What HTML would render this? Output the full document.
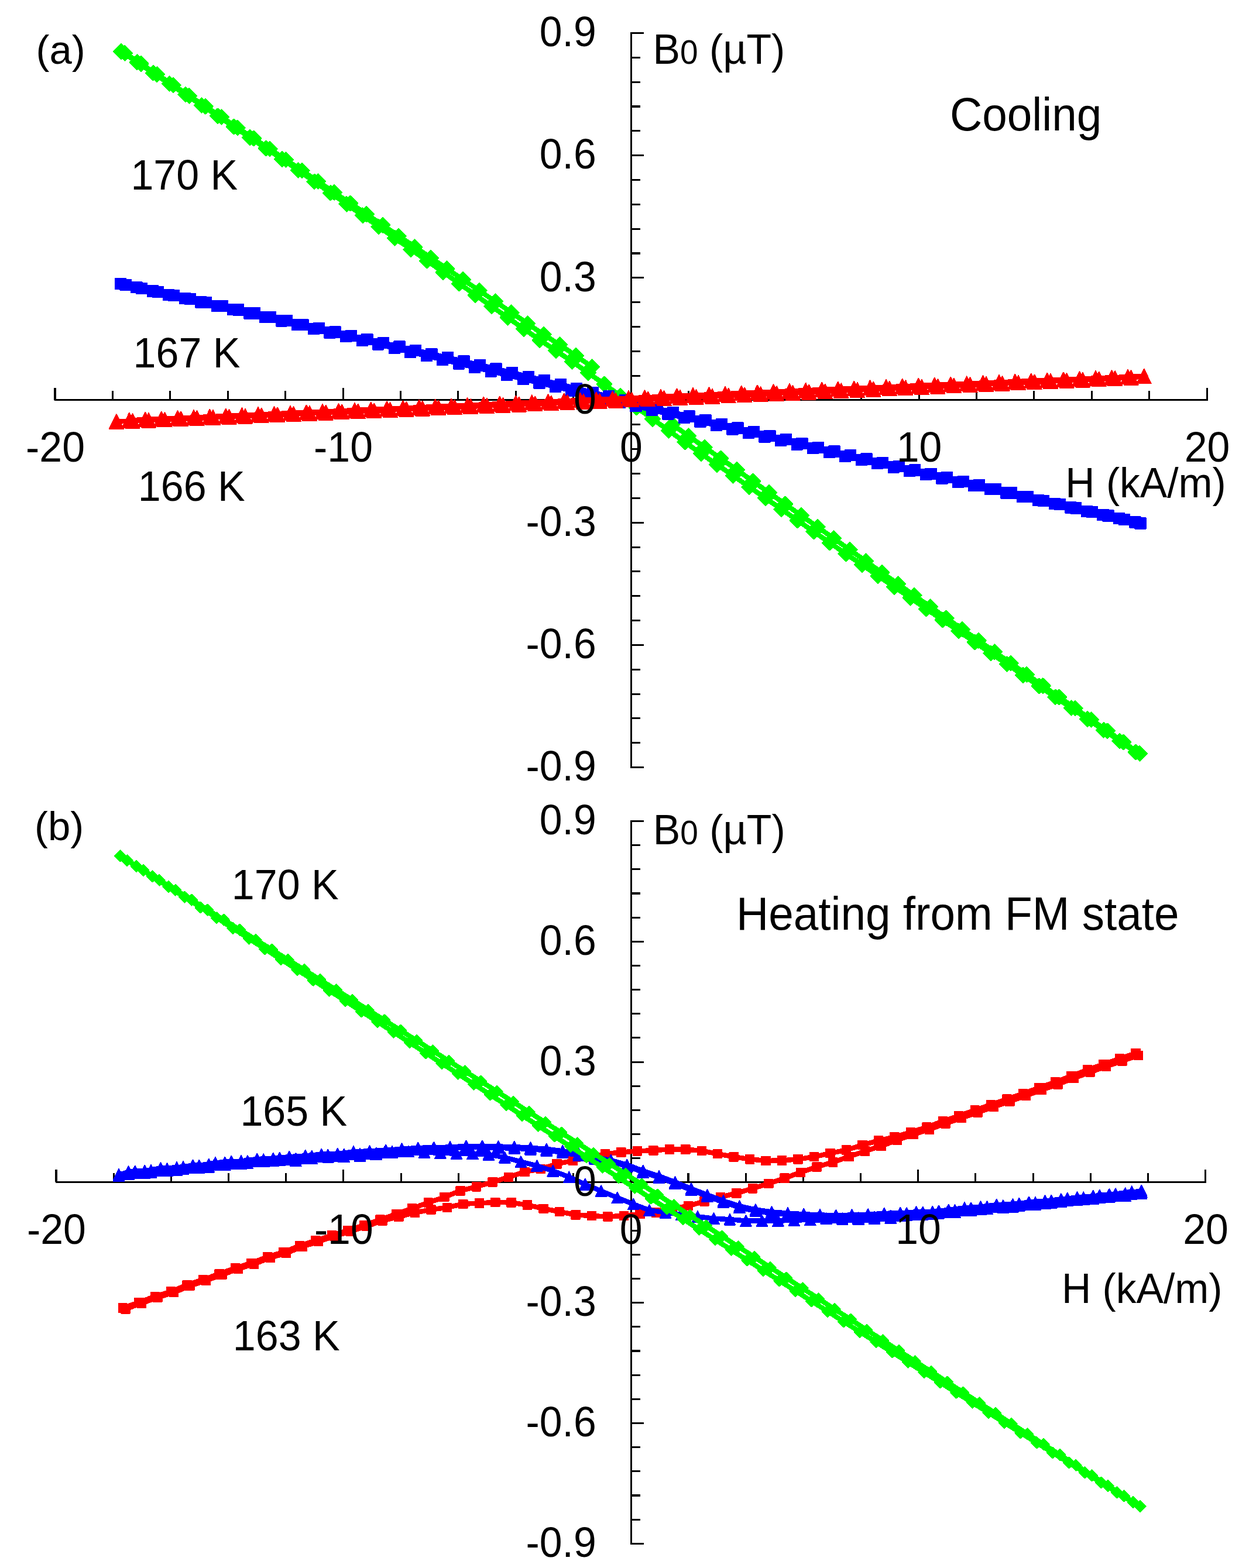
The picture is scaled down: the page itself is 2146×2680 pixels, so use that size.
<!DOCTYPE html>
<html lang="en">
<head>
<meta charset="utf-8">
<title>B0 versus H: cooling and heating from FM state</title>
<style>
html,body{margin:0;padding:0;background:#fff}
body{width:2146px;height:2680px;overflow:hidden}
svg{display:block}
text{font-family:'Liberation Sans', Arial, Helvetica, sans-serif;fill:#000}
</style>
</head>
<body>
<svg width="2146" height="2680" viewBox="0 0 2146 2680">
<rect width="2146" height="2680" fill="#fff"/>
<g id="panel-a" shape-rendering="crispEdges">
<path d="M92.5 683.5H2063.6M94 683.5V663.1M192.4 683.5V668.3M290.9 683.5V668.3M389.3 683.5V668.3M487.7 683.5V668.3M586.1 683.5V663.1M684.5 683.5V668.3M782.9 683.5V668.3M881.2 683.5V668.3M979.7 683.5V668.3M1078.1 683.5V663.1M1176.5 683.5V668.3M1274.9 683.5V668.3M1373.3 683.5V668.3M1471.7 683.5V668.3M1570.1 683.5V663.1M1668.5 683.5V668.3M1766.9 683.5V668.3M1865.3 683.5V668.3M1963.7 683.5V668.3M2062.1 683.5V663.1M1078.5 55V1313.1M1078.5 56.5H1100M1078.5 98.3H1094M1078.5 140.2H1094M1078.5 182H1094M1078.5 223.8H1094M1078.5 265.7H1100M1078.5 307.5H1094M1078.5 349.4H1094M1078.5 391.2H1094M1078.5 433H1094M1078.5 474.9H1100M1078.5 516.7H1094M1078.5 558.5H1094M1078.5 600.4H1094M1078.5 642.2H1094M1078.5 684H1100M1078.5 725.9H1094M1078.5 767.7H1094M1078.5 809.6H1094M1078.5 851.4H1094M1078.5 893.2H1100M1078.5 935.1H1094M1078.5 976.9H1094M1078.5 1018.7H1094M1078.5 1060.6H1094M1078.5 1102.4H1100M1078.5 1144.3H1094M1078.5 1186.1H1094M1078.5 1227.9H1094M1078.5 1269.8H1094M1078.5 1311.6H1100" fill="none" stroke="#000" stroke-width="3.1"/>
<path d="M1149 725.5L1176.5 745.2L1204 764.5L1231.5 783.7L1259.1 803.1L1286.6 822.6L1314.1 842.1L1341.6 861.6L1369.1 881.1L1396.7 900.6L1424.2 920.1L1451.7 939.6L1479.2 959.1L1506.7 978.7L1534.3 998.2L1561.8 1017.7L1589.3 1037L1616.8 1056.3L1644.3 1075.6L1671.9 1094.9L1699.4 1114.2L1726.9 1133.5L1754.4 1152.8L1781.9 1172.1L1809.5 1191.4L1837 1210.6L1864.5 1229.9L1892 1249.2L1919.5 1268.5L1947.1 1287.8L1940.7 1285.5L1913.1 1266.6L1885.6 1247.8L1858.1 1229L1830.6 1210.1L1803.1 1191.3L1775.5 1172.6L1748 1153.9L1720.5 1135.1L1693 1116.4L1665.5 1097.5L1637.9 1078.5L1610.4 1059.6L1582.9 1040.7L1555.4 1021.8L1527.9 1003L1500.3 984.2L1472.8 965.3L1445.3 946.5L1417.8 927.7L1390.3 908.6L1362.7 889.5L1335.2 870.4L1307.7 851.3L1280.2 832.2L1252.7 813L1225.1 794.1L1197.6 775.2L1170.1 755.7L1142.6 735.9L1115.1 716.1L1087.5 696.3L1060 676.5L1032.5 656.7L1005 637.1L977.5 618.1L949.9 599.3L922.4 581.2L894.9 562L867.4 542.8L839.9 523.6L812.3 504.1L784.8 484.6L757.3 465.2L729.8 445.7L702.3 426.3L674.7 406.8L647.2 387.5L619.7 368.2L592.2 348.9L564.7 329.6L537.1 310.3L509.6 291L482.1 272.1L454.6 253.6L427.1 235.1L399.5 216.6L372 198.2L344.5 179.8L317 161.4L289.5 143.1L261.9 124.7L234.4 106.3L206.9 88L213.3 90.8L240.8 109L268.3 127.2L295.9 145.4L323.4 163.7L350.9 181.9L378.4 200.1L405.9 218.3L433.5 236.5L461 254.7L488.5 272.9L516 291.6L543.5 310.2L571.1 328.9L598.6 347.5L626.1 366.1L653.6 384.8L681.1 403.4L708.7 422.1L736.2 440.7L763.7 459.3L791.2 478L818.7 496.6L846.3 515.3L873.8 534.1L901.3 553L928.8 571.9L956.3 589.2L983.9 608L1011.4 626.9" fill="none" stroke="#00ff00" stroke-width="8.5" stroke-linejoin="round" stroke-linecap="round"/>
<path d="M1136.2 725.5l12.8 -12.8l12.8 12.8l-12.8 12.8zM1163.7 745.2l12.8 -12.8l12.8 12.8l-12.8 12.8zM1191.2 764.5l12.8 -12.8l12.8 12.8l-12.8 12.8zM1218.7 783.7l12.8 -12.8l12.8 12.8l-12.8 12.8zM1246.3 803.1l12.8 -12.8l12.8 12.8l-12.8 12.8zM1273.8 822.6l12.8 -12.8l12.8 12.8l-12.8 12.8zM1301.3 842.1l12.8 -12.8l12.8 12.8l-12.8 12.8zM1328.8 861.6l12.8 -12.8l12.8 12.8l-12.8 12.8zM1356.3 881.1l12.8 -12.8l12.8 12.8l-12.8 12.8zM1383.9 900.6l12.8 -12.8l12.8 12.8l-12.8 12.8zM1411.4 920.1l12.8 -12.8l12.8 12.8l-12.8 12.8zM1438.9 939.6l12.8 -12.8l12.8 12.8l-12.8 12.8zM1466.4 959.1l12.8 -12.8l12.8 12.8l-12.8 12.8zM1493.9 978.7l12.8 -12.8l12.8 12.8l-12.8 12.8zM1521.5 998.2l12.8 -12.8l12.8 12.8l-12.8 12.8zM1549 1017.7l12.8 -12.8l12.8 12.8l-12.8 12.8zM1576.5 1037l12.8 -12.8l12.8 12.8l-12.8 12.8zM1604 1056.3l12.8 -12.8l12.8 12.8l-12.8 12.8zM1631.5 1075.6l12.8 -12.8l12.8 12.8l-12.8 12.8zM1659.1 1094.9l12.8 -12.8l12.8 12.8l-12.8 12.8zM1686.6 1114.2l12.8 -12.8l12.8 12.8l-12.8 12.8zM1714.1 1133.5l12.8 -12.8l12.8 12.8l-12.8 12.8zM1741.6 1152.8l12.8 -12.8l12.8 12.8l-12.8 12.8zM1769.1 1172.1l12.8 -12.8l12.8 12.8l-12.8 12.8zM1796.7 1191.4l12.8 -12.8l12.8 12.8l-12.8 12.8zM1824.2 1210.6l12.8 -12.8l12.8 12.8l-12.8 12.8zM1851.7 1229.9l12.8 -12.8l12.8 12.8l-12.8 12.8zM1879.2 1249.2l12.8 -12.8l12.8 12.8l-12.8 12.8zM1906.7 1268.5l12.8 -12.8l12.8 12.8l-12.8 12.8zM1934.3 1287.8l12.8 -12.8l12.8 12.8l-12.8 12.8zM1927.9 1285.5l12.8 -12.8l12.8 12.8l-12.8 12.8zM1900.3 1266.6l12.8 -12.8l12.8 12.8l-12.8 12.8zM1872.8 1247.8l12.8 -12.8l12.8 12.8l-12.8 12.8zM1845.3 1229l12.8 -12.8l12.8 12.8l-12.8 12.8zM1817.8 1210.1l12.8 -12.8l12.8 12.8l-12.8 12.8zM1790.3 1191.3l12.8 -12.8l12.8 12.8l-12.8 12.8zM1762.7 1172.6l12.8 -12.8l12.8 12.8l-12.8 12.8zM1735.2 1153.9l12.8 -12.8l12.8 12.8l-12.8 12.8zM1707.7 1135.1l12.8 -12.8l12.8 12.8l-12.8 12.8zM1680.2 1116.4l12.8 -12.8l12.8 12.8l-12.8 12.8zM1652.7 1097.5l12.8 -12.8l12.8 12.8l-12.8 12.8zM1625.1 1078.5l12.8 -12.8l12.8 12.8l-12.8 12.8zM1597.6 1059.6l12.8 -12.8l12.8 12.8l-12.8 12.8zM1570.1 1040.7l12.8 -12.8l12.8 12.8l-12.8 12.8zM1542.6 1021.8l12.8 -12.8l12.8 12.8l-12.8 12.8zM1515.1 1003l12.8 -12.8l12.8 12.8l-12.8 12.8zM1487.5 984.2l12.8 -12.8l12.8 12.8l-12.8 12.8zM1460 965.3l12.8 -12.8l12.8 12.8l-12.8 12.8zM1432.5 946.5l12.8 -12.8l12.8 12.8l-12.8 12.8zM1405 927.7l12.8 -12.8l12.8 12.8l-12.8 12.8zM1377.5 908.6l12.8 -12.8l12.8 12.8l-12.8 12.8zM1349.9 889.5l12.8 -12.8l12.8 12.8l-12.8 12.8zM1322.4 870.4l12.8 -12.8l12.8 12.8l-12.8 12.8zM1294.9 851.3l12.8 -12.8l12.8 12.8l-12.8 12.8zM1267.4 832.2l12.8 -12.8l12.8 12.8l-12.8 12.8zM1239.9 813l12.8 -12.8l12.8 12.8l-12.8 12.8zM1212.3 794.1l12.8 -12.8l12.8 12.8l-12.8 12.8zM1184.8 775.2l12.8 -12.8l12.8 12.8l-12.8 12.8zM1157.3 755.7l12.8 -12.8l12.8 12.8l-12.8 12.8zM1129.8 735.9l12.8 -12.8l12.8 12.8l-12.8 12.8zM1102.3 716.1l12.8 -12.8l12.8 12.8l-12.8 12.8zM1074.7 696.3l12.8 -12.8l12.8 12.8l-12.8 12.8zM1047.2 676.5l12.8 -12.8l12.8 12.8l-12.8 12.8zM1019.7 656.7l12.8 -12.8l12.8 12.8l-12.8 12.8zM992.2 637.1l12.8 -12.8l12.8 12.8l-12.8 12.8zM964.7 618.1l12.8 -12.8l12.8 12.8l-12.8 12.8zM937.1 599.3l12.8 -12.8l12.8 12.8l-12.8 12.8zM909.6 581.2l12.8 -12.8l12.8 12.8l-12.8 12.8zM882.1 562l12.8 -12.8l12.8 12.8l-12.8 12.8zM854.6 542.8l12.8 -12.8l12.8 12.8l-12.8 12.8zM827.1 523.6l12.8 -12.8l12.8 12.8l-12.8 12.8zM799.5 504.1l12.8 -12.8l12.8 12.8l-12.8 12.8zM772 484.6l12.8 -12.8l12.8 12.8l-12.8 12.8zM744.5 465.2l12.8 -12.8l12.8 12.8l-12.8 12.8zM717 445.7l12.8 -12.8l12.8 12.8l-12.8 12.8zM689.5 426.3l12.8 -12.8l12.8 12.8l-12.8 12.8zM661.9 406.8l12.8 -12.8l12.8 12.8l-12.8 12.8zM634.4 387.5l12.8 -12.8l12.8 12.8l-12.8 12.8zM606.9 368.2l12.8 -12.8l12.8 12.8l-12.8 12.8zM579.4 348.9l12.8 -12.8l12.8 12.8l-12.8 12.8zM551.9 329.6l12.8 -12.8l12.8 12.8l-12.8 12.8zM524.3 310.3l12.8 -12.8l12.8 12.8l-12.8 12.8zM496.8 291l12.8 -12.8l12.8 12.8l-12.8 12.8zM469.3 272.1l12.8 -12.8l12.8 12.8l-12.8 12.8zM441.8 253.6l12.8 -12.8l12.8 12.8l-12.8 12.8zM414.3 235.1l12.8 -12.8l12.8 12.8l-12.8 12.8zM386.7 216.6l12.8 -12.8l12.8 12.8l-12.8 12.8zM359.2 198.2l12.8 -12.8l12.8 12.8l-12.8 12.8zM331.7 179.8l12.8 -12.8l12.8 12.8l-12.8 12.8zM304.2 161.4l12.8 -12.8l12.8 12.8l-12.8 12.8zM276.7 143.1l12.8 -12.8l12.8 12.8l-12.8 12.8zM249.1 124.7l12.8 -12.8l12.8 12.8l-12.8 12.8zM221.6 106.3l12.8 -12.8l12.8 12.8l-12.8 12.8zM194.1 88l12.8 -12.8l12.8 12.8l-12.8 12.8zM200.5 90.8l12.8 -12.8l12.8 12.8l-12.8 12.8zM228 109l12.8 -12.8l12.8 12.8l-12.8 12.8zM255.5 127.2l12.8 -12.8l12.8 12.8l-12.8 12.8zM283.1 145.4l12.8 -12.8l12.8 12.8l-12.8 12.8zM310.6 163.7l12.8 -12.8l12.8 12.8l-12.8 12.8zM338.1 181.9l12.8 -12.8l12.8 12.8l-12.8 12.8zM365.6 200.1l12.8 -12.8l12.8 12.8l-12.8 12.8zM393.1 218.3l12.8 -12.8l12.8 12.8l-12.8 12.8zM420.7 236.5l12.8 -12.8l12.8 12.8l-12.8 12.8zM448.2 254.7l12.8 -12.8l12.8 12.8l-12.8 12.8zM475.7 272.9l12.8 -12.8l12.8 12.8l-12.8 12.8zM503.2 291.6l12.8 -12.8l12.8 12.8l-12.8 12.8zM530.7 310.2l12.8 -12.8l12.8 12.8l-12.8 12.8zM558.3 328.9l12.8 -12.8l12.8 12.8l-12.8 12.8zM585.8 347.5l12.8 -12.8l12.8 12.8l-12.8 12.8zM613.3 366.1l12.8 -12.8l12.8 12.8l-12.8 12.8zM640.8 384.8l12.8 -12.8l12.8 12.8l-12.8 12.8zM668.3 403.4l12.8 -12.8l12.8 12.8l-12.8 12.8zM695.9 422.1l12.8 -12.8l12.8 12.8l-12.8 12.8zM723.4 440.7l12.8 -12.8l12.8 12.8l-12.8 12.8zM750.9 459.3l12.8 -12.8l12.8 12.8l-12.8 12.8zM778.4 478l12.8 -12.8l12.8 12.8l-12.8 12.8zM805.9 496.6l12.8 -12.8l12.8 12.8l-12.8 12.8zM833.5 515.3l12.8 -12.8l12.8 12.8l-12.8 12.8zM861 534.1l12.8 -12.8l12.8 12.8l-12.8 12.8zM888.5 553l12.8 -12.8l12.8 12.8l-12.8 12.8zM916 571.9l12.8 -12.8l12.8 12.8l-12.8 12.8zM943.5 589.2l12.8 -12.8l12.8 12.8l-12.8 12.8zM971.1 608l12.8 -12.8l12.8 12.8l-12.8 12.8zM998.6 626.9l12.8 -12.8l12.8 12.8l-12.8 12.8z" fill="#00ff00" stroke="#00ff00" stroke-width="2" stroke-linejoin="round"/>
<path d="M205.8 484.8L233.3 491.1L260.8 497.5L288.4 503.8L315.9 510.1L343.4 516.4L370.9 522.8L398.4 529.1L426 535.4L453.5 541.8L481 548.4L508.5 555.1L536 561.8L563.6 568.5L591.1 575.1L618.6 581.7L646.1 588.3L673.6 594.9L701.2 601.5L728.7 608.1L756.2 614.7L783.7 621.3L811.2 627.9L838.8 634.5L866.3 641.2L893.8 647.8L921.3 654.4L948.8 661L976.4 667.6L1003.9 674.3L1031.4 680.9L1058.9 687.5L1086.4 694.1L1114 700.8L1141.5 707.4L1169 713.9L1196.5 720.4L1224 726.9L1251.6 733.4L1279.1 740L1306.6 746.5L1334.1 753L1361.6 759.5L1389.2 766.2L1416.7 773L1444.2 779.7L1471.7 786L1499.2 792.3L1526.8 798.6L1554.3 804.8L1581.8 811.1L1609.3 817.4L1636.8 823.7L1664.4 830L1691.9 836.2L1719.4 842.5L1746.9 848.7L1774.4 855L1802 861.2L1829.5 867.5L1857 873.8L1884.5 880L1912 886.3L1939.6 892.5L1948.4 894.5L1920.8 888L1893.3 881.5L1865.8 875.1L1838.3 868.6L1810.8 862.1L1783.2 855.6L1755.7 849.1L1728.2 842.5L1700.7 836L1673.2 829.4L1645.6 822.8L1618.1 816.2L1590.6 809.9L1563.1 803.5L1535.6 797.2L1508 790.9L1480.5 784.5L1453 778.2L1425.5 771.5L1398 764.7L1370.4 758L1342.9 751.3L1315.4 744.7L1287.9 738L1260.4 731.4L1232.8 724.8L1205.3 718.2L1177.8 711.6L1150.3 705L1122.8 698.2L1095.2 691.3L1067.7 684.4L1040.2 677.6L1012.7 670.7L985.2 663.8L957.6 657.1L930.1 650.4L902.6 643.7L875.1 637L847.6 630.3L820 623.8L792.5 617.5L765 611.3L737.5 605L710 598.8L682.4 592.5L654.9 586.3L627.4 580L599.9 573.7L572.4 567.5L544.8 561.1L517.3 554.6L489.8 548.1L462.3 541.7L434.8 535.5L407.2 529.4L379.7 523.3L352.2 517.2L324.7 511.1L297.2 505L269.6 498.9L242.1 492.8L214.6 486.8" fill="none" stroke="#0000ff" stroke-width="8.5" stroke-linejoin="round" stroke-linecap="round"/>
<path d="M196.7 475.7h18.3v18.3h-18.3zM224.2 482h18.3v18.3h-18.3zM251.7 488.3h18.3v18.3h-18.3zM279.2 494.6h18.3v18.3h-18.3zM306.7 501h18.3v18.3h-18.3zM334.2 507.3h18.3v18.3h-18.3zM361.8 513.6h18.3v18.3h-18.3zM389.3 519.9h18.3v18.3h-18.3zM416.8 526.3h18.3v18.3h-18.3zM444.3 532.6h18.3v18.3h-18.3zM471.9 539.3h18.3v18.3h-18.3zM499.4 546h18.3v18.3h-18.3zM526.9 552.7h18.3v18.3h-18.3zM554.4 559.4h18.3v18.3h-18.3zM581.9 566h18.3v18.3h-18.3zM609.5 572.6h18.3v18.3h-18.3zM637 579.2h18.3v18.3h-18.3zM664.5 585.8h18.3v18.3h-18.3zM692 592.4h18.3v18.3h-18.3zM719.5 599h18.3v18.3h-18.3zM747.1 605.6h18.3v18.3h-18.3zM774.6 612.2h18.3v18.3h-18.3zM802.1 618.8h18.3v18.3h-18.3zM829.6 625.4h18.3v18.3h-18.3zM857.1 632h18.3v18.3h-18.3zM884.6 638.6h18.3v18.3h-18.3zM912.2 645.3h18.3v18.3h-18.3zM939.7 651.9h18.3v18.3h-18.3zM967.2 658.5h18.3v18.3h-18.3zM994.7 665.1h18.3v18.3h-18.3zM1022.3 671.7h18.3v18.3h-18.3zM1049.8 678.4h18.3v18.3h-18.3zM1077.3 685h18.3v18.3h-18.3zM1104.8 691.6h18.3v18.3h-18.3zM1132.3 698.2h18.3v18.3h-18.3zM1159.8 704.7h18.3v18.3h-18.3zM1187.4 711.3h18.3v18.3h-18.3zM1214.9 717.8h18.3v18.3h-18.3zM1242.4 724.3h18.3v18.3h-18.3zM1269.9 730.8h18.3v18.3h-18.3zM1297.4 737.3h18.3v18.3h-18.3zM1325 743.8h18.3v18.3h-18.3zM1352.5 750.4h18.3v18.3h-18.3zM1380 757.1h18.3v18.3h-18.3zM1407.5 763.8h18.3v18.3h-18.3zM1435 770.6h18.3v18.3h-18.3zM1462.6 776.8h18.3v18.3h-18.3zM1490.1 783.1h18.3v18.3h-18.3zM1517.6 789.4h18.3v18.3h-18.3zM1545.1 795.7h18.3v18.3h-18.3zM1572.6 802h18.3v18.3h-18.3zM1600.2 808.3h18.3v18.3h-18.3zM1627.7 814.5h18.3v18.3h-18.3zM1655.2 820.8h18.3v18.3h-18.3zM1682.7 827.1h18.3v18.3h-18.3zM1710.2 833.3h18.3v18.3h-18.3zM1737.8 839.6h18.3v18.3h-18.3zM1765.3 845.8h18.3v18.3h-18.3zM1792.8 852.1h18.3v18.3h-18.3zM1820.3 858.3h18.3v18.3h-18.3zM1847.8 864.6h18.3v18.3h-18.3zM1875.4 870.9h18.3v18.3h-18.3zM1902.9 877.1h18.3v18.3h-18.3zM1930.4 883.4h18.3v18.3h-18.3zM1939.2 885.4h18.3v18.3h-18.3zM1911.7 878.9h18.3v18.3h-18.3zM1884.2 872.4h18.3v18.3h-18.3zM1856.6 865.9h18.3v18.3h-18.3zM1829.1 859.4h18.3v18.3h-18.3zM1801.6 853h18.3v18.3h-18.3zM1774.1 846.5h18.3v18.3h-18.3zM1746.6 840h18.3v18.3h-18.3zM1719 833.4h18.3v18.3h-18.3zM1691.5 826.8h18.3v18.3h-18.3zM1664 820.2h18.3v18.3h-18.3zM1636.5 813.7h18.3v18.3h-18.3zM1609 807.1h18.3v18.3h-18.3zM1581.4 800.7h18.3v18.3h-18.3zM1553.9 794.4h18.3v18.3h-18.3zM1526.4 788h18.3v18.3h-18.3zM1498.9 781.7h18.3v18.3h-18.3zM1471.4 775.4h18.3v18.3h-18.3zM1443.8 769h18.3v18.3h-18.3zM1416.3 762.4h18.3v18.3h-18.3zM1388.8 755.6h18.3v18.3h-18.3zM1361.3 748.8h18.3v18.3h-18.3zM1333.8 742.1h18.3v18.3h-18.3zM1306.2 735.5h18.3v18.3h-18.3zM1278.7 728.9h18.3v18.3h-18.3zM1251.2 722.3h18.3v18.3h-18.3zM1223.7 715.7h18.3v18.3h-18.3zM1196.2 709.1h18.3v18.3h-18.3zM1168.6 702.4h18.3v18.3h-18.3zM1141.1 695.8h18.3v18.3h-18.3zM1113.6 689h18.3v18.3h-18.3zM1086.1 682.1h18.3v18.3h-18.3zM1058.6 675.3h18.3v18.3h-18.3zM1031 668.4h18.3v18.3h-18.3zM1003.5 661.5h18.3v18.3h-18.3zM976 654.7h18.3v18.3h-18.3zM948.5 647.9h18.3v18.3h-18.3zM921 641.2h18.3v18.3h-18.3zM893.5 634.5h18.3v18.3h-18.3zM865.9 627.8h18.3v18.3h-18.3zM838.4 621.2h18.3v18.3h-18.3zM810.9 614.6h18.3v18.3h-18.3zM783.4 608.4h18.3v18.3h-18.3zM755.9 602.1h18.3v18.3h-18.3zM728.3 595.9h18.3v18.3h-18.3zM700.8 589.6h18.3v18.3h-18.3zM673.3 583.4h18.3v18.3h-18.3zM645.8 577.1h18.3v18.3h-18.3zM618.2 570.9h18.3v18.3h-18.3zM590.7 564.6h18.3v18.3h-18.3zM563.2 558.3h18.3v18.3h-18.3zM535.7 551.9h18.3v18.3h-18.3zM508.2 545.5h18.3v18.3h-18.3zM480.6 539h18.3v18.3h-18.3zM453.1 532.5h18.3v18.3h-18.3zM425.6 526.3h18.3v18.3h-18.3zM398.1 520.2h18.3v18.3h-18.3zM370.6 514.1h18.3v18.3h-18.3zM343.1 508h18.3v18.3h-18.3zM315.5 502h18.3v18.3h-18.3zM288 495.9h18.3v18.3h-18.3zM260.5 489.8h18.3v18.3h-18.3zM233 483.7h18.3v18.3h-18.3zM205.4 477.6h18.3v18.3h-18.3z" fill="#0000ff" stroke="#0000ff" stroke-width="2" stroke-linejoin="round"/>
<path d="M198.9 720.7L226.4 719.5L253.9 718.3L281.5 717.1L309 715.9L336.5 714.8L364 713.6L391.5 712.4L419.1 711.2L446.6 710L474.1 708.8L501.6 707.7L529.1 706.5L556.7 705.3L584.2 704.1L611.7 702.9L639.2 701.8L666.7 700.6L694.3 699.4L721.8 698.2L749.3 697L776.8 695.9L804.3 694.7L831.9 693.5L859.4 692.4L886.9 691.2L914.4 690L941.9 688.9L969.5 687.7L997 686.6L1024.5 685.4L1052 684.2L1079.5 683.1L1107.1 681.9L1134.6 680.7L1162.1 679.6L1189.6 678.4L1217.1 677.3L1244.7 676.1L1272.2 674.9L1299.7 673.8L1327.2 672.6L1354.7 671.4L1382.3 670.2L1409.8 669L1437.3 667.7L1464.8 666.5L1492.3 665.3L1519.9 664L1547.4 662.8L1574.9 661.5L1602.4 660.3L1629.9 659.1L1657.5 657.8L1685 656.6L1712.5 655.4L1740 654.1L1767.5 652.9L1795.1 651.6L1822.6 650.4L1850.1 649.2L1877.6 647.9L1905.1 646.7L1932.7 645.5L1954.6 643L1927 644.1L1899.5 645.3L1872 646.4L1844.5 647.6L1817 648.8L1789.4 649.9L1761.9 651.1L1734.4 652.2L1706.9 653.4L1679.4 654.5L1651.8 655.7L1624.3 656.8L1596.8 658L1569.3 659.2L1541.8 660.3L1514.2 661.5L1486.7 662.6L1459.2 663.8L1431.7 664.9L1404.2 666.1L1376.6 667.2L1349.1 668.4L1321.6 669.6L1294.1 670.8L1266.6 672L1239 673.2L1211.5 674.4L1184 675.6L1156.5 676.9L1129 678.1L1101.4 679.3L1073.9 680.5L1046.4 681.7L1018.9 682.9L991.4 684.1L963.8 685.3L936.3 686.5L908.8 687.7L881.3 689L853.8 690.2L826.2 691.4L798.7 692.6L771.2 693.8L743.7 695L716.2 696.3L688.6 697.5L661.1 698.7L633.6 700L606.1 701.2L578.6 702.4L551 703.6L523.5 704.9L496 706.1L468.5 707.3L441 708.5L413.4 709.8L385.9 711L358.4 712.2L330.9 713.5L303.4 714.7L275.8 715.9L248.3 717.1L220.8 718.4" fill="none" stroke="#ff0000" stroke-width="8.5" stroke-linejoin="round" stroke-linecap="round"/>
<path d="M198.9 708.4l12.1 24.6h-24.2zM226.4 707.2l12.1 24.6h-24.2zM253.9 706l12.1 24.6h-24.2zM281.5 704.8l12.1 24.6h-24.2zM309 703.6l12.1 24.6h-24.2zM336.5 702.5l12.1 24.6h-24.2zM364 701.3l12.1 24.6h-24.2zM391.5 700.1l12.1 24.6h-24.2zM419.1 698.9l12.1 24.6h-24.2zM446.6 697.7l12.1 24.6h-24.2zM474.1 696.5l12.1 24.6h-24.2zM501.6 695.4l12.1 24.6h-24.2zM529.1 694.2l12.1 24.6h-24.2zM556.7 693l12.1 24.6h-24.2zM584.2 691.8l12.1 24.6h-24.2zM611.7 690.6l12.1 24.6h-24.2zM639.2 689.5l12.1 24.6h-24.2zM666.7 688.3l12.1 24.6h-24.2zM694.3 687.1l12.1 24.6h-24.2zM721.8 685.9l12.1 24.6h-24.2zM749.3 684.7l12.1 24.6h-24.2zM776.8 683.6l12.1 24.6h-24.2zM804.3 682.4l12.1 24.6h-24.2zM831.9 681.2l12.1 24.6h-24.2zM859.4 680.1l12.1 24.6h-24.2zM886.9 678.9l12.1 24.6h-24.2zM914.4 677.7l12.1 24.6h-24.2zM941.9 676.6l12.1 24.6h-24.2zM969.5 675.4l12.1 24.6h-24.2zM997 674.3l12.1 24.6h-24.2zM1024.5 673.1l12.1 24.6h-24.2zM1052 671.9l12.1 24.6h-24.2zM1079.5 670.8l12.1 24.6h-24.2zM1107.1 669.6l12.1 24.6h-24.2zM1134.6 668.4l12.1 24.6h-24.2zM1162.1 667.3l12.1 24.6h-24.2zM1189.6 666.1l12.1 24.6h-24.2zM1217.1 665l12.1 24.6h-24.2zM1244.7 663.8l12.1 24.6h-24.2zM1272.2 662.6l12.1 24.6h-24.2zM1299.7 661.5l12.1 24.6h-24.2zM1327.2 660.3l12.1 24.6h-24.2zM1354.7 659.1l12.1 24.6h-24.2zM1382.3 657.9l12.1 24.6h-24.2zM1409.8 656.7l12.1 24.6h-24.2zM1437.3 655.4l12.1 24.6h-24.2zM1464.8 654.2l12.1 24.6h-24.2zM1492.3 653l12.1 24.6h-24.2zM1519.9 651.7l12.1 24.6h-24.2zM1547.4 650.5l12.1 24.6h-24.2zM1574.9 649.2l12.1 24.6h-24.2zM1602.4 648l12.1 24.6h-24.2zM1629.9 646.8l12.1 24.6h-24.2zM1657.5 645.5l12.1 24.6h-24.2zM1685 644.3l12.1 24.6h-24.2zM1712.5 643.1l12.1 24.6h-24.2zM1740 641.8l12.1 24.6h-24.2zM1767.5 640.6l12.1 24.6h-24.2zM1795.1 639.3l12.1 24.6h-24.2zM1822.6 638.1l12.1 24.6h-24.2zM1850.1 636.9l12.1 24.6h-24.2zM1877.6 635.6l12.1 24.6h-24.2zM1905.1 634.4l12.1 24.6h-24.2zM1932.7 633.2l12.1 24.6h-24.2zM1954.6 630.7l12.1 24.6h-24.2zM1927 631.8l12.1 24.6h-24.2zM1899.5 633l12.1 24.6h-24.2zM1872 634.1l12.1 24.6h-24.2zM1844.5 635.3l12.1 24.6h-24.2zM1817 636.5l12.1 24.6h-24.2zM1789.4 637.6l12.1 24.6h-24.2zM1761.9 638.8l12.1 24.6h-24.2zM1734.4 639.9l12.1 24.6h-24.2zM1706.9 641.1l12.1 24.6h-24.2zM1679.4 642.2l12.1 24.6h-24.2zM1651.8 643.4l12.1 24.6h-24.2zM1624.3 644.5l12.1 24.6h-24.2zM1596.8 645.7l12.1 24.6h-24.2zM1569.3 646.9l12.1 24.6h-24.2zM1541.8 648l12.1 24.6h-24.2zM1514.2 649.2l12.1 24.6h-24.2zM1486.7 650.3l12.1 24.6h-24.2zM1459.2 651.5l12.1 24.6h-24.2zM1431.7 652.6l12.1 24.6h-24.2zM1404.2 653.8l12.1 24.6h-24.2zM1376.6 654.9l12.1 24.6h-24.2zM1349.1 656.1l12.1 24.6h-24.2zM1321.6 657.3l12.1 24.6h-24.2zM1294.1 658.5l12.1 24.6h-24.2zM1266.6 659.7l12.1 24.6h-24.2zM1239 660.9l12.1 24.6h-24.2zM1211.5 662.1l12.1 24.6h-24.2zM1184 663.3l12.1 24.6h-24.2zM1156.5 664.6l12.1 24.6h-24.2zM1129 665.8l12.1 24.6h-24.2zM1101.4 667l12.1 24.6h-24.2zM1073.9 668.2l12.1 24.6h-24.2zM1046.4 669.4l12.1 24.6h-24.2zM1018.9 670.6l12.1 24.6h-24.2zM991.4 671.8l12.1 24.6h-24.2zM963.8 673l12.1 24.6h-24.2zM936.3 674.2l12.1 24.6h-24.2zM908.8 675.4l12.1 24.6h-24.2zM881.3 676.7l12.1 24.6h-24.2zM853.8 677.9l12.1 24.6h-24.2zM826.2 679.1l12.1 24.6h-24.2zM798.7 680.3l12.1 24.6h-24.2zM771.2 681.5l12.1 24.6h-24.2zM743.7 682.7l12.1 24.6h-24.2zM716.2 684l12.1 24.6h-24.2zM688.6 685.2l12.1 24.6h-24.2zM661.1 686.4l12.1 24.6h-24.2zM633.6 687.7l12.1 24.6h-24.2zM606.1 688.9l12.1 24.6h-24.2zM578.6 690.1l12.1 24.6h-24.2zM551 691.3l12.1 24.6h-24.2zM523.5 692.6l12.1 24.6h-24.2zM496 693.8l12.1 24.6h-24.2zM468.5 695l12.1 24.6h-24.2zM441 696.2l12.1 24.6h-24.2zM413.4 697.5l12.1 24.6h-24.2zM385.9 698.7l12.1 24.6h-24.2zM358.4 699.9l12.1 24.6h-24.2zM330.9 701.2l12.1 24.6h-24.2zM303.4 702.4l12.1 24.6h-24.2zM275.8 703.6l12.1 24.6h-24.2zM248.3 704.8l12.1 24.6h-24.2zM220.8 706.1l12.1 24.6h-24.2z" fill="#ff0000" stroke="#ff0000" stroke-width="2" stroke-linejoin="round"/>
</g>
<g id="panel-b" shape-rendering="crispEdges">
<path d="M94.5 2020.3H2061.2M96 2020.3V1999M194.2 2020.3V2004.8M292.4 2020.3V2004.8M390.5 2020.3V2004.8M488.7 2020.3V2004.8M586.9 2020.3V1999M685.1 2020.3V2004.8M783.3 2020.3V2004.8M881.4 2020.3V2004.8M979.6 2020.3V2004.8M1077.8 2020.3V1999M1176 2020.3V2004.8M1274.2 2020.3V2004.8M1372.3 2020.3V2004.8M1470.5 2020.3V2004.8M1568.7 2020.3V1999M1666.9 2020.3V2004.8M1765.1 2020.3V2004.8M1863.2 2020.3V2004.8M1961.4 2020.3V2004.8M2059.6 2020.3V1999M1078.5 1402V2639.9M1078.5 1403.5H1100M1078.5 1444.7H1094M1078.5 1485.8H1094M1078.5 1527H1094M1078.5 1568.1H1094M1078.5 1609.3H1100M1078.5 1650.5H1094M1078.5 1691.6H1094M1078.5 1732.8H1094M1078.5 1773.9H1094M1078.5 1815.1H1100M1078.5 1856.3H1094M1078.5 1897.4H1094M1078.5 1938.6H1094M1078.5 1979.7H1094M1078.5 2020.9H1100M1078.5 2062.1H1094M1078.5 2103.2H1094M1078.5 2144.4H1094M1078.5 2185.5H1094M1078.5 2226.7H1100M1078.5 2267.9H1094M1078.5 2309H1094M1078.5 2350.2H1094M1078.5 2391.3H1094M1078.5 2432.5H1100M1078.5 2473.7H1094M1078.5 2514.8H1094M1078.5 2556H1094M1078.5 2597.1H1094M1078.5 2638.3H1100" fill="none" stroke="#000" stroke-width="3.1"/>
<path d="M209.8 2235.7L237.3 2226L264.7 2215.9L292.2 2207.5L319.7 2196.3L347.1 2187L374.6 2177.4L402.1 2167.2L429.6 2158.8L457 2148.2L484.5 2140.1L512 2129.3L539.4 2120.4L566.9 2111.5L594.4 2102.9L621.8 2094.3L649.3 2084.7L676.8 2075.1L704.3 2065.3L731.7 2055.6L759.2 2046L786.7 2035.3L814.1 2028.3L841.6 2020.4L869.1 2012L896.5 2003L924 1997.9L951.5 1989.3L979 1983.9L1006.4 1978L1033.9 1972.1L1061.4 1969.5L1088.8 1967.4L1116.3 1966.2L1143.8 1964.4L1171.2 1964.4L1198.7 1967L1226.2 1972.1L1253.7 1977.3L1281.1 1981.3L1308.6 1983.9L1336.1 1983.5L1363.5 1981.3L1391 1977.2L1418.5 1971.1L1445.9 1965.6L1473.4 1957.2L1500.9 1949.5L1528.4 1943.4L1555.8 1935.2L1583.3 1926.6L1610.8 1916.5L1638.2 1907.1L1665.7 1897.7L1693.2 1887.9L1720.6 1878.6L1748.1 1869.1L1775.6 1859.1L1803.1 1849.4L1830.5 1839L1858 1828.7L1885.5 1819L1912.9 1809.6L1940.4 1799.9L1945 1803.7L1917.5 1813.4L1890.1 1822.8L1862.6 1832.5L1835.1 1842.8L1807.7 1853.2L1780.2 1862.9L1752.7 1872.9L1725.2 1882.4L1697.8 1891.7L1670.3 1901.5L1642.8 1910.9L1615.4 1920.3L1587.9 1930.4L1560.4 1939L1533 1948.7L1505.5 1958.8L1478 1967.6L1450.5 1976.9L1423.1 1986.3L1395.6 1994.5L1368.1 2003.8L1340.7 2013.6L1313.2 2022.9L1285.7 2031.3L1258.3 2039.5L1230.8 2046.1L1203.3 2053.4L1175.8 2061.1L1148.4 2065.9L1120.9 2072.5L1093.4 2075.1L1066 2077.7L1038.5 2079.5L1011 2078.1L983.6 2076.4L956.1 2071L928.6 2065.8L901.1 2059.5L873.7 2055.5L846.2 2054.8L818.7 2056.5L791.3 2057.8L763.8 2063.9L736.3 2067.5L708.9 2072.6L681.4 2079.8L653.9 2086.3L626.4 2095.9L599 2104.5L571.5 2113.1L544 2122L516.6 2130.9L489.1 2141.7L461.6 2149.8L434.2 2160.4L406.7 2168.8L379.2 2179L351.8 2188.6L324.3 2197.9L296.8 2209.1L269.3 2217.5L241.9 2227.6L214.4 2237.3" fill="none" stroke="#ff0000" stroke-width="8.5" stroke-linejoin="round" stroke-linecap="round"/>
<path d="M202.6 2228.4h14.5v14.5h-14.5zM230 2218.8h14.5v14.5h-14.5zM257.5 2208.7h14.5v14.5h-14.5zM285 2200.3h14.5v14.5h-14.5zM312.4 2189h14.5v14.5h-14.5zM339.9 2179.8h14.5v14.5h-14.5zM367.4 2170.1h14.5v14.5h-14.5zM394.8 2159.9h14.5v14.5h-14.5zM422.3 2151.6h14.5v14.5h-14.5zM449.8 2141h14.5v14.5h-14.5zM477.2 2132.8h14.5v14.5h-14.5zM504.7 2122.1h14.5v14.5h-14.5zM532.2 2113.1h14.5v14.5h-14.5zM559.7 2104.3h14.5v14.5h-14.5zM587.1 2095.7h14.5v14.5h-14.5zM614.6 2087.1h14.5v14.5h-14.5zM642.1 2077.4h14.5v14.5h-14.5zM669.5 2067.8h14.5v14.5h-14.5zM697 2058.1h14.5v14.5h-14.5zM724.5 2048.4h14.5v14.5h-14.5zM752 2038.7h14.5v14.5h-14.5zM779.4 2028.1h14.5v14.5h-14.5zM806.9 2021h14.5v14.5h-14.5zM834.4 2013.2h14.5v14.5h-14.5zM861.8 2004.7h14.5v14.5h-14.5zM889.3 1995.7h14.5v14.5h-14.5zM916.8 1990.6h14.5v14.5h-14.5zM944.2 1982h14.5v14.5h-14.5zM971.7 1976.7h14.5v14.5h-14.5zM999.2 1970.7h14.5v14.5h-14.5zM1026.6 1964.8h14.5v14.5h-14.5zM1054.1 1962.3h14.5v14.5h-14.5zM1081.6 1960.1h14.5v14.5h-14.5zM1109.1 1959h14.5v14.5h-14.5zM1136.5 1957.2h14.5v14.5h-14.5zM1164 1957.2h14.5v14.5h-14.5zM1191.5 1959.8h14.5v14.5h-14.5zM1218.9 1964.9h14.5v14.5h-14.5zM1246.4 1970.1h14.5v14.5h-14.5zM1273.9 1974.1h14.5v14.5h-14.5zM1301.3 1976.6h14.5v14.5h-14.5zM1328.8 1976.2h14.5v14.5h-14.5zM1356.3 1974h14.5v14.5h-14.5zM1383.8 1969.9h14.5v14.5h-14.5zM1411.2 1963.9h14.5v14.5h-14.5zM1438.7 1958.4h14.5v14.5h-14.5zM1466.2 1949.9h14.5v14.5h-14.5zM1493.6 1942.2h14.5v14.5h-14.5zM1521.1 1936.1h14.5v14.5h-14.5zM1548.6 1928h14.5v14.5h-14.5zM1576 1919.4h14.5v14.5h-14.5zM1603.5 1909.2h14.5v14.5h-14.5zM1631 1899.8h14.5v14.5h-14.5zM1658.5 1890.4h14.5v14.5h-14.5zM1685.9 1880.6h14.5v14.5h-14.5zM1713.4 1871.4h14.5v14.5h-14.5zM1740.9 1861.8h14.5v14.5h-14.5zM1768.3 1851.8h14.5v14.5h-14.5zM1795.8 1842.2h14.5v14.5h-14.5zM1823.3 1831.8h14.5v14.5h-14.5zM1850.7 1821.4h14.5v14.5h-14.5zM1878.2 1811.7h14.5v14.5h-14.5zM1905.7 1802.3h14.5v14.5h-14.5zM1933.2 1792.7h14.5v14.5h-14.5zM1937.8 1796.5h14.5v14.5h-14.5zM1910.3 1806.1h14.5v14.5h-14.5zM1882.8 1815.5h14.5v14.5h-14.5zM1855.3 1825.2h14.5v14.5h-14.5zM1827.9 1835.6h14.5v14.5h-14.5zM1800.4 1846h14.5v14.5h-14.5zM1772.9 1855.6h14.5v14.5h-14.5zM1745.5 1865.6h14.5v14.5h-14.5zM1718 1875.2h14.5v14.5h-14.5zM1690.5 1884.4h14.5v14.5h-14.5zM1663.1 1894.2h14.5v14.5h-14.5zM1635.6 1903.6h14.5v14.5h-14.5zM1608.1 1913h14.5v14.5h-14.5zM1580.7 1923.2h14.5v14.5h-14.5zM1553.2 1931.8h14.5v14.5h-14.5zM1525.7 1941.4h14.5v14.5h-14.5zM1498.2 1951.6h14.5v14.5h-14.5zM1470.8 1960.3h14.5v14.5h-14.5zM1443.3 1969.7h14.5v14.5h-14.5zM1415.8 1979.1h14.5v14.5h-14.5zM1388.4 1987.2h14.5v14.5h-14.5zM1360.9 1996.5h14.5v14.5h-14.5zM1333.4 2006.4h14.5v14.5h-14.5zM1306 2015.6h14.5v14.5h-14.5zM1278.5 2024h14.5v14.5h-14.5zM1251 2032.2h14.5v14.5h-14.5zM1223.5 2038.9h14.5v14.5h-14.5zM1196.1 2046.2h14.5v14.5h-14.5zM1168.6 2053.9h14.5v14.5h-14.5zM1141.1 2058.7h14.5v14.5h-14.5zM1113.7 2065.2h14.5v14.5h-14.5zM1086.2 2067.8h14.5v14.5h-14.5zM1058.7 2070.5h14.5v14.5h-14.5zM1031.2 2072.2h14.5v14.5h-14.5zM1003.8 2070.9h14.5v14.5h-14.5zM976.3 2069.2h14.5v14.5h-14.5zM948.8 2063.8h14.5v14.5h-14.5zM921.4 2058.6h14.5v14.5h-14.5zM893.9 2052.2h14.5v14.5h-14.5zM866.4 2048.2h14.5v14.5h-14.5zM839 2047.6h14.5v14.5h-14.5zM811.5 2049.3h14.5v14.5h-14.5zM784 2050.6h14.5v14.5h-14.5zM756.5 2056.6h14.5v14.5h-14.5zM729.1 2060.2h14.5v14.5h-14.5zM701.6 2065.4h14.5v14.5h-14.5zM674.1 2072.5h14.5v14.5h-14.5zM646.7 2079.1h14.5v14.5h-14.5zM619.2 2088.7h14.5v14.5h-14.5zM591.7 2097.3h14.5v14.5h-14.5zM564.3 2105.9h14.5v14.5h-14.5zM536.8 2114.7h14.5v14.5h-14.5zM509.3 2123.7h14.5v14.5h-14.5zM481.9 2134.4h14.5v14.5h-14.5zM454.4 2142.6h14.5v14.5h-14.5zM426.9 2153.2h14.5v14.5h-14.5zM399.4 2161.5h14.5v14.5h-14.5zM372 2171.7h14.5v14.5h-14.5zM344.5 2181.4h14.5v14.5h-14.5zM317 2190.6h14.5v14.5h-14.5zM289.6 2201.9h14.5v14.5h-14.5zM262.1 2210.3h14.5v14.5h-14.5zM234.6 2220.4h14.5v14.5h-14.5zM207.2 2230h14.5v14.5h-14.5z" fill="#ff0000" stroke="#ff0000" stroke-width="2" stroke-linejoin="round"/>
<path d="M203.1 2007.3L230.6 2001.9L258 2000.4L285.5 1997.2L313 1994.6L340.4 1992L367.9 1987.3L395.4 1985.1L422.9 1984.6L450.3 1981.7L477.8 1979.4L505.3 1980.5L532.7 1976.1L560.2 1973.8L587.7 1973.3L615.1 1972.5L642.6 1971L670.1 1968.6L697.6 1968L725 1970L752.5 1970.5L780 1971.8L807.4 1971.8L834.9 1973.4L862.4 1978.3L889.9 1985.6L917.3 1992.6L944.8 2001.3L972.3 2011.7L999.7 2024.3L1027.2 2035.7L1054.7 2047.1L1082.1 2058.1L1109.6 2068.6L1137.1 2072.3L1164.5 2075.8L1192 2079.3L1219.5 2082.7L1247 2084.2L1274.4 2086.5L1301.9 2086.6L1329.4 2086.6L1356.8 2085.7L1384.3 2084.8L1411.8 2082.6L1439.2 2082.6L1466.7 2081.8L1494.2 2080.5L1521.7 2078L1549.1 2073.7L1576.6 2071.9L1604.1 2069.8L1631.5 2068.5L1659 2065L1686.5 2062.3L1713.9 2060.6L1741.4 2057.1L1768.9 2055.4L1796.4 2051.9L1823.8 2048.4L1851.3 2046.7L1878.8 2043.1L1906.2 2040.6L1933.7 2036.8L1950.4 2037.6L1950.2 2035.3L1922.7 2039.7L1895.3 2041.4L1867.8 2044.4L1840.3 2046.6L1812.9 2049.6L1785.4 2052.7L1757.9 2054.8L1730.4 2058.3L1703 2059.1L1675.5 2062.6L1648 2064.4L1620.6 2067.9L1593.1 2071L1565.6 2071.3L1538.2 2073.4L1510.7 2073.9L1483.2 2075.7L1455.7 2076.5L1428.3 2077.4L1400.8 2076.5L1373.3 2075.3L1345.9 2073.5L1318.4 2071.4L1290.9 2067.6L1263.5 2061.4L1236 2052.6L1208.5 2042.2L1181 2031.7L1153.6 2020.6L1126.1 2010.2L1098.6 2001.1L1071.2 1990.8L1043.7 1983.1L1016.2 1977.8L988.8 1972.5L961.3 1967.3L933.8 1963.9L906.4 1961.8L878.9 1960.2L851.4 1959.6L823.9 1958.8L796.5 1958.9L769 1960.6L741.5 1961.1L714.1 1962L686.6 1963.8L659.1 1965.9L631.6 1967.3L604.2 1968.5L576.7 1971.9L549.2 1972.8L521.8 1975.4L494.3 1977.2L466.8 1979.8L439.4 1981L411.9 1984.5L384.4 1987.1L356.9 1990.2L329.5 1991.9L302 1995.4L274.5 1996.6L247.1 2001L219.6 2002.7L203.1 2008.6L219.6 2006.7L247.1 2005L274.5 2000.6L302 1999.4L329.5 1995.9L356.9 1994.2L384.4 1991.1L411.9 1988.5L439.4 1985L466.8 1983.8L494.3 1981.2L521.8 1979.4L549.2 1976.8L576.7 1975.9L604.2 1972.5L631.6 1971.3L659.1 1969.6L686.6 1967.2L714.1 1965L741.5 1963.8L769 1963L796.5 1961.3L823.9 1961.2L851.4 1962L878.9 1962.6L906.4 1964.2L933.8 1966.3L961.3 1969.7L988.8 1974.9L1016.2 1980.2L1043.7 1985.5L1071.2 1993.2L1098.6 2003.5L1126.1 2012.6L1153.6 2023L1181 2034.1L1208.5 2044.6L1236 2055L1263.5 2063.8L1290.9 2070L1318.4 2073.8L1345.9 2075.9L1373.3 2077.7L1400.8 2079.2L1428.3 2080.4L1455.7 2079.9L1483.2 2079.5L1510.7 2077.9L1538.2 2077.4L1565.6 2075.3L1593.1 2075L1620.6 2071.9L1648 2068.4L1675.5 2066.6L1703 2063.1L1730.4 2062.3L1757.9 2058.8L1785.4 2056.7L1812.9 2053.6L1840.3 2050.6L1867.8 2048.4L1895.3 2045.4L1922.7 2043.7L1950.2 2039.3L1933.7 2040.2L1906.2 2044L1878.8 2046.5L1851.3 2050.1L1823.8 2051.8L1796.4 2055.3L1768.9 2058.8L1741.4 2060.5L1713.9 2064L1686.5 2065.7L1659 2068.4L1631.5 2071.9L1604.1 2073.2L1576.6 2075.3L1549.1 2077.1L1521.7 2081.4L1494.2 2083L1466.7 2083.4L1439.2 2083.3L1411.8 2082.6L1384.3 2084.8L1356.8 2085.7L1329.4 2086.6L1301.9 2086.6L1274.4 2086.5L1247 2084.2L1219.5 2082.7L1192 2079.3L1164.5 2075.8L1137.1 2072.3L1109.6 2068.6L1082.1 2058.1L1054.7 2047.1L1027.2 2035.7L999.7 2024.3L972.3 2011.7L944.8 2001.3L917.3 1992.6L889.9 1985.6L862.4 1978.3L834.9 1973.4L807.4 1971.8L780 1971.8L752.5 1970.5L725 1970L697.6 1968.1L670.1 1969.6L642.6 1972.9L615.1 1975.4L587.7 1976.7L560.2 1977.2L532.7 1979.5L505.3 1983.9L477.8 1982.8L450.3 1985.1L422.9 1988L395.4 1988.5L367.9 1990.7L340.4 1995.4L313 1998L285.5 2000.6L258 2003.7L230.6 2004.7L203.1 2009.5" fill="none" stroke="#0000ff" stroke-width="8.5" stroke-linejoin="round" stroke-linecap="round"/>
<path d="M203.1 1998l9.3 18.6h-18.7zM230.6 1992.6l9.3 18.6h-18.7zM258 1991.1l9.3 18.6h-18.7zM285.5 1987.9l9.3 18.6h-18.7zM313 1985.3l9.3 18.6h-18.7zM340.4 1982.7l9.3 18.6h-18.7zM367.9 1978l9.3 18.6h-18.7zM395.4 1975.8l9.3 18.6h-18.7zM422.9 1975.3l9.3 18.6h-18.7zM450.3 1972.4l9.3 18.6h-18.7zM477.8 1970.1l9.3 18.6h-18.7zM505.3 1971.2l9.3 18.6h-18.7zM532.7 1966.8l9.3 18.6h-18.7zM560.2 1964.5l9.3 18.6h-18.7zM587.7 1964l9.3 18.6h-18.7zM615.1 1963.2l9.3 18.6h-18.7zM642.6 1961.7l9.3 18.6h-18.7zM670.1 1959.3l9.3 18.6h-18.7zM697.6 1958.7l9.3 18.6h-18.7zM725 1960.7l9.3 18.6h-18.7zM752.5 1961.2l9.3 18.6h-18.7zM780 1962.5l9.3 18.6h-18.7zM807.4 1962.5l9.3 18.6h-18.7zM834.9 1964.1l9.3 18.6h-18.7zM862.4 1969l9.3 18.6h-18.7zM889.9 1976.3l9.3 18.6h-18.7zM917.3 1983.3l9.3 18.6h-18.7zM944.8 1992l9.3 18.6h-18.7zM972.3 2002.4l9.3 18.6h-18.7zM999.7 2015l9.3 18.6h-18.7zM1027.2 2026.4l9.3 18.6h-18.7zM1054.7 2037.8l9.3 18.6h-18.7zM1082.1 2048.8l9.3 18.6h-18.7zM1109.6 2059.3l9.3 18.6h-18.7zM1137.1 2063l9.3 18.6h-18.7zM1164.5 2066.5l9.3 18.6h-18.7zM1192 2070l9.3 18.6h-18.7zM1219.5 2073.4l9.3 18.6h-18.7zM1247 2074.9l9.3 18.6h-18.7zM1274.4 2077.2l9.3 18.6h-18.7zM1301.9 2077.3l9.3 18.6h-18.7zM1329.4 2077.3l9.3 18.6h-18.7zM1356.8 2076.4l9.3 18.6h-18.7zM1384.3 2075.5l9.3 18.6h-18.7zM1411.8 2073.3l9.3 18.6h-18.7zM1439.2 2073.3l9.3 18.6h-18.7zM1466.7 2072.5l9.3 18.6h-18.7zM1494.2 2071.2l9.3 18.6h-18.7zM1521.7 2068.7l9.3 18.6h-18.7zM1549.1 2064.4l9.3 18.6h-18.7zM1576.6 2062.6l9.3 18.6h-18.7zM1604.1 2060.5l9.3 18.6h-18.7zM1631.5 2059.2l9.3 18.6h-18.7zM1659 2055.7l9.3 18.6h-18.7zM1686.5 2053l9.3 18.6h-18.7zM1713.9 2051.3l9.3 18.6h-18.7zM1741.4 2047.8l9.3 18.6h-18.7zM1768.9 2046.1l9.3 18.6h-18.7zM1796.4 2042.6l9.3 18.6h-18.7zM1823.8 2039.1l9.3 18.6h-18.7zM1851.3 2037.4l9.3 18.6h-18.7zM1878.8 2033.8l9.3 18.6h-18.7zM1906.2 2031.3l9.3 18.6h-18.7zM1933.7 2027.5l9.3 18.6h-18.7zM1950.4 2028.3l9.3 18.6h-18.7zM1950.2 2026l9.3 18.6h-18.7zM1922.7 2030.4l9.3 18.6h-18.7zM1895.3 2032.1l9.3 18.6h-18.7zM1867.8 2035.1l9.3 18.6h-18.7zM1840.3 2037.3l9.3 18.6h-18.7zM1812.9 2040.3l9.3 18.6h-18.7zM1785.4 2043.4l9.3 18.6h-18.7zM1757.9 2045.5l9.3 18.6h-18.7zM1730.4 2049l9.3 18.6h-18.7zM1703 2049.8l9.3 18.6h-18.7zM1675.5 2053.3l9.3 18.6h-18.7zM1648 2055.1l9.3 18.6h-18.7zM1620.6 2058.6l9.3 18.6h-18.7zM1593.1 2061.7l9.3 18.6h-18.7zM1565.6 2062l9.3 18.6h-18.7zM1538.2 2064.1l9.3 18.6h-18.7zM1510.7 2064.6l9.3 18.6h-18.7zM1483.2 2066.4l9.3 18.6h-18.7zM1455.7 2067.2l9.3 18.6h-18.7zM1428.3 2068.1l9.3 18.6h-18.7zM1400.8 2067.2l9.3 18.6h-18.7zM1373.3 2066l9.3 18.6h-18.7zM1345.9 2064.2l9.3 18.6h-18.7zM1318.4 2062.1l9.3 18.6h-18.7zM1290.9 2058.3l9.3 18.6h-18.7zM1263.5 2052.1l9.3 18.6h-18.7zM1236 2043.3l9.3 18.6h-18.7zM1208.5 2032.9l9.3 18.6h-18.7zM1181 2022.4l9.3 18.6h-18.7zM1153.6 2011.3l9.3 18.6h-18.7zM1126.1 2000.9l9.3 18.6h-18.7zM1098.6 1991.8l9.3 18.6h-18.7zM1071.2 1981.5l9.3 18.6h-18.7zM1043.7 1973.8l9.3 18.6h-18.7zM1016.2 1968.5l9.3 18.6h-18.7zM988.8 1963.2l9.3 18.6h-18.7zM961.3 1958l9.3 18.6h-18.7zM933.8 1954.6l9.3 18.6h-18.7zM906.4 1952.5l9.3 18.6h-18.7zM878.9 1950.9l9.3 18.6h-18.7zM851.4 1950.3l9.3 18.6h-18.7zM823.9 1949.5l9.3 18.6h-18.7zM796.5 1949.6l9.3 18.6h-18.7zM769 1951.3l9.3 18.6h-18.7zM741.5 1951.8l9.3 18.6h-18.7zM714.1 1952.7l9.3 18.6h-18.7zM686.6 1954.5l9.3 18.6h-18.7zM659.1 1956.6l9.3 18.6h-18.7zM631.6 1958l9.3 18.6h-18.7zM604.2 1959.2l9.3 18.6h-18.7zM576.7 1962.6l9.3 18.6h-18.7zM549.2 1963.5l9.3 18.6h-18.7zM521.8 1966.1l9.3 18.6h-18.7zM494.3 1967.9l9.3 18.6h-18.7zM466.8 1970.5l9.3 18.6h-18.7zM439.4 1971.7l9.3 18.6h-18.7zM411.9 1975.2l9.3 18.6h-18.7zM384.4 1977.8l9.3 18.6h-18.7zM356.9 1980.9l9.3 18.6h-18.7zM329.5 1982.6l9.3 18.6h-18.7zM302 1986.1l9.3 18.6h-18.7zM274.5 1987.3l9.3 18.6h-18.7zM247.1 1991.7l9.3 18.6h-18.7zM219.6 1993.4l9.3 18.6h-18.7zM203.1 1999.3l9.3 18.6h-18.7zM219.6 1997.4l9.3 18.6h-18.7zM247.1 1995.7l9.3 18.6h-18.7zM274.5 1991.3l9.3 18.6h-18.7zM302 1990.1l9.3 18.6h-18.7zM329.5 1986.6l9.3 18.6h-18.7zM356.9 1984.9l9.3 18.6h-18.7zM384.4 1981.8l9.3 18.6h-18.7zM411.9 1979.2l9.3 18.6h-18.7zM439.4 1975.7l9.3 18.6h-18.7zM466.8 1974.5l9.3 18.6h-18.7zM494.3 1971.9l9.3 18.6h-18.7zM521.8 1970.1l9.3 18.6h-18.7zM549.2 1967.5l9.3 18.6h-18.7zM576.7 1966.6l9.3 18.6h-18.7zM604.2 1963.2l9.3 18.6h-18.7zM631.6 1962l9.3 18.6h-18.7zM659.1 1960.3l9.3 18.6h-18.7zM686.6 1957.9l9.3 18.6h-18.7zM714.1 1955.7l9.3 18.6h-18.7zM741.5 1954.5l9.3 18.6h-18.7zM769 1953.7l9.3 18.6h-18.7zM796.5 1952l9.3 18.6h-18.7zM823.9 1951.9l9.3 18.6h-18.7zM851.4 1952.7l9.3 18.6h-18.7zM878.9 1953.3l9.3 18.6h-18.7zM906.4 1954.9l9.3 18.6h-18.7zM933.8 1957l9.3 18.6h-18.7zM961.3 1960.4l9.3 18.6h-18.7zM988.8 1965.6l9.3 18.6h-18.7zM1016.2 1970.9l9.3 18.6h-18.7zM1043.7 1976.2l9.3 18.6h-18.7zM1071.2 1983.9l9.3 18.6h-18.7zM1098.6 1994.2l9.3 18.6h-18.7zM1126.1 2003.3l9.3 18.6h-18.7zM1153.6 2013.7l9.3 18.6h-18.7zM1181 2024.8l9.3 18.6h-18.7zM1208.5 2035.3l9.3 18.6h-18.7zM1236 2045.7l9.3 18.6h-18.7zM1263.5 2054.5l9.3 18.6h-18.7zM1290.9 2060.7l9.3 18.6h-18.7zM1318.4 2064.5l9.3 18.6h-18.7zM1345.9 2066.6l9.3 18.6h-18.7zM1373.3 2068.4l9.3 18.6h-18.7zM1400.8 2069.9l9.3 18.6h-18.7zM1428.3 2071.1l9.3 18.6h-18.7zM1455.7 2070.6l9.3 18.6h-18.7zM1483.2 2070.2l9.3 18.6h-18.7zM1510.7 2068.6l9.3 18.6h-18.7zM1538.2 2068.1l9.3 18.6h-18.7zM1565.6 2066l9.3 18.6h-18.7zM1593.1 2065.7l9.3 18.6h-18.7zM1620.6 2062.6l9.3 18.6h-18.7zM1648 2059.1l9.3 18.6h-18.7zM1675.5 2057.3l9.3 18.6h-18.7zM1703 2053.8l9.3 18.6h-18.7zM1730.4 2053l9.3 18.6h-18.7zM1757.9 2049.5l9.3 18.6h-18.7zM1785.4 2047.4l9.3 18.6h-18.7zM1812.9 2044.3l9.3 18.6h-18.7zM1840.3 2041.3l9.3 18.6h-18.7zM1867.8 2039.1l9.3 18.6h-18.7zM1895.3 2036.1l9.3 18.6h-18.7zM1922.7 2034.4l9.3 18.6h-18.7zM1950.2 2030l9.3 18.6h-18.7zM1933.7 2030.9l9.3 18.6h-18.7zM1906.2 2034.7l9.3 18.6h-18.7zM1878.8 2037.2l9.3 18.6h-18.7zM1851.3 2040.8l9.3 18.6h-18.7zM1823.8 2042.5l9.3 18.6h-18.7zM1796.4 2046l9.3 18.6h-18.7zM1768.9 2049.5l9.3 18.6h-18.7zM1741.4 2051.2l9.3 18.6h-18.7zM1713.9 2054.7l9.3 18.6h-18.7zM1686.5 2056.4l9.3 18.6h-18.7zM1659 2059.1l9.3 18.6h-18.7zM1631.5 2062.6l9.3 18.6h-18.7zM1604.1 2063.9l9.3 18.6h-18.7zM1576.6 2066l9.3 18.6h-18.7zM1549.1 2067.8l9.3 18.6h-18.7zM1521.7 2072.1l9.3 18.6h-18.7zM1494.2 2073.7l9.3 18.6h-18.7zM1466.7 2074.1l9.3 18.6h-18.7zM1439.2 2074l9.3 18.6h-18.7zM1411.8 2073.3l9.3 18.6h-18.7zM1384.3 2075.5l9.3 18.6h-18.7zM1356.8 2076.4l9.3 18.6h-18.7zM1329.4 2077.3l9.3 18.6h-18.7zM1301.9 2077.3l9.3 18.6h-18.7zM1274.4 2077.2l9.3 18.6h-18.7zM1247 2074.9l9.3 18.6h-18.7zM1219.5 2073.4l9.3 18.6h-18.7zM1192 2070l9.3 18.6h-18.7zM1164.5 2066.5l9.3 18.6h-18.7zM1137.1 2063l9.3 18.6h-18.7zM1109.6 2059.3l9.3 18.6h-18.7zM1082.1 2048.8l9.3 18.6h-18.7zM1054.7 2037.8l9.3 18.6h-18.7zM1027.2 2026.4l9.3 18.6h-18.7zM999.7 2015l9.3 18.6h-18.7zM972.3 2002.4l9.3 18.6h-18.7zM944.8 1992l9.3 18.6h-18.7zM917.3 1983.3l9.3 18.6h-18.7zM889.9 1976.3l9.3 18.6h-18.7zM862.4 1969l9.3 18.6h-18.7zM834.9 1964.1l9.3 18.6h-18.7zM807.4 1962.5l9.3 18.6h-18.7zM780 1962.5l9.3 18.6h-18.7zM752.5 1961.2l9.3 18.6h-18.7zM725 1960.7l9.3 18.6h-18.7zM697.6 1958.8l9.3 18.6h-18.7zM670.1 1960.3l9.3 18.6h-18.7zM642.6 1963.6l9.3 18.6h-18.7zM615.1 1966.1l9.3 18.6h-18.7zM587.7 1967.4l9.3 18.6h-18.7zM560.2 1967.9l9.3 18.6h-18.7zM532.7 1970.2l9.3 18.6h-18.7zM505.3 1974.6l9.3 18.6h-18.7zM477.8 1973.5l9.3 18.6h-18.7zM450.3 1975.8l9.3 18.6h-18.7zM422.9 1978.7l9.3 18.6h-18.7zM395.4 1979.2l9.3 18.6h-18.7zM367.9 1981.4l9.3 18.6h-18.7zM340.4 1986.1l9.3 18.6h-18.7zM313 1988.7l9.3 18.6h-18.7zM285.5 1991.3l9.3 18.6h-18.7zM258 1994.4l9.3 18.6h-18.7zM230.6 1995.4l9.3 18.6h-18.7zM203.1 2000.2l9.3 18.6h-18.7z" fill="#0000ff" stroke="#0000ff" stroke-width="2" stroke-linejoin="round"/>
<path d="M205.5 1462.6L233 1480.2L260.4 1497.9L287.9 1515.6L315.4 1533.3L342.9 1551L370.3 1568.7L397.8 1586.4L425.3 1604.2L452.7 1621.9L480.2 1639.7L507.7 1657.4L535.1 1675.2L562.6 1693L590.1 1710.8L617.5 1728.6L645 1746.4L672.5 1764.1L700 1781.9L727.4 1799.7L754.9 1817.5L782.4 1835.3L809.8 1853.1L837.3 1870.9L864.8 1888.6L892.2 1906.4L919.7 1924.1L947.2 1941.9L974.7 1959.6L1002.1 1977.4L1029.6 1995.1L1057.1 2012.8L1084.5 2030.5L1112 2048.1L1139.5 2065.8L1166.9 2083.4L1194.4 2101.1L1221.9 2118.7L1249.4 2136.3L1276.8 2153.9L1304.3 2171.4L1331.8 2188.9L1359.2 2206.4L1386.7 2223.9L1414.2 2241.4L1441.6 2258.8L1469.1 2276.3L1496.6 2293.6L1524.1 2311L1551.5 2328.3L1579 2345.7L1606.5 2362.9L1633.9 2380.2L1661.4 2397.4L1688.9 2414.6L1716.3 2431.7L1743.8 2448.9L1771.3 2466L1798.8 2483L1826.2 2500L1853.7 2517L1881.2 2534L1908.6 2550.9L1936.1 2567.8L1948 2574.5L1920.5 2556.9L1893.1 2539.4L1865.6 2521.7L1838.1 2504.1L1810.7 2486.4L1783.2 2468.7L1755.7 2451L1728.2 2433.3L1700.8 2415.5L1673.3 2397.8L1645.8 2380L1618.4 2362.2L1590.9 2344.4L1563.4 2326.6L1536 2308.8L1508.5 2291L1481 2273.2L1453.5 2255.4L1426.1 2237.6L1398.6 2219.7L1371.1 2201.9L1343.7 2184.1L1316.2 2166.3L1288.7 2148.5L1261.3 2130.7L1233.8 2113L1206.3 2095.2L1178.8 2077.4L1151.4 2059.7L1123.9 2042L1096.4 2024.3L1069 2006.6L1041.5 1988.9L1014 1971.2L986.6 1953.6L959.1 1936L931.6 1918.4L904.1 1900.8L876.7 1883.3L849.2 1865.7L821.7 1848.2L794.3 1830.8L766.8 1813.3L739.3 1795.9L711.9 1778.5L684.4 1761.1L656.9 1743.8L629.4 1726.5L602 1709.2L574.5 1691.9L547 1674.7L519.6 1657.5L492.1 1640.4L464.6 1623.3L437.2 1606.2L409.7 1589.1L382.2 1572.1L354.8 1555.1L327.3 1538.1L299.8 1521.2L272.3 1504.3L244.9 1487.4L217.4 1470.6" fill="none" stroke="#00ff00" stroke-width="8.5" stroke-linejoin="round" stroke-linecap="round"/>
<path d="M196 1462.6l9.5 -9.5l9.5 9.5l-9.5 9.5zM223.5 1480.2l9.5 -9.5l9.5 9.5l-9.5 9.5zM250.9 1497.9l9.5 -9.5l9.5 9.5l-9.5 9.5zM278.4 1515.6l9.5 -9.5l9.5 9.5l-9.5 9.5zM305.9 1533.3l9.5 -9.5l9.5 9.5l-9.5 9.5zM333.4 1551l9.5 -9.5l9.5 9.5l-9.5 9.5zM360.8 1568.7l9.5 -9.5l9.5 9.5l-9.5 9.5zM388.3 1586.4l9.5 -9.5l9.5 9.5l-9.5 9.5zM415.8 1604.2l9.5 -9.5l9.5 9.5l-9.5 9.5zM443.2 1621.9l9.5 -9.5l9.5 9.5l-9.5 9.5zM470.7 1639.7l9.5 -9.5l9.5 9.5l-9.5 9.5zM498.2 1657.4l9.5 -9.5l9.5 9.5l-9.5 9.5zM525.6 1675.2l9.5 -9.5l9.5 9.5l-9.5 9.5zM553.1 1693l9.5 -9.5l9.5 9.5l-9.5 9.5zM580.6 1710.8l9.5 -9.5l9.5 9.5l-9.5 9.5zM608 1728.6l9.5 -9.5l9.5 9.5l-9.5 9.5zM635.5 1746.4l9.5 -9.5l9.5 9.5l-9.5 9.5zM663 1764.1l9.5 -9.5l9.5 9.5l-9.5 9.5zM690.5 1781.9l9.5 -9.5l9.5 9.5l-9.5 9.5zM717.9 1799.7l9.5 -9.5l9.5 9.5l-9.5 9.5zM745.4 1817.5l9.5 -9.5l9.5 9.5l-9.5 9.5zM772.9 1835.3l9.5 -9.5l9.5 9.5l-9.5 9.5zM800.3 1853.1l9.5 -9.5l9.5 9.5l-9.5 9.5zM827.8 1870.9l9.5 -9.5l9.5 9.5l-9.5 9.5zM855.3 1888.6l9.5 -9.5l9.5 9.5l-9.5 9.5zM882.8 1906.4l9.5 -9.5l9.5 9.5l-9.5 9.5zM910.2 1924.1l9.5 -9.5l9.5 9.5l-9.5 9.5zM937.7 1941.9l9.5 -9.5l9.5 9.5l-9.5 9.5zM965.2 1959.6l9.5 -9.5l9.5 9.5l-9.5 9.5zM992.6 1977.4l9.5 -9.5l9.5 9.5l-9.5 9.5zM1020.1 1995.1l9.5 -9.5l9.5 9.5l-9.5 9.5zM1047.6 2012.8l9.5 -9.5l9.5 9.5l-9.5 9.5zM1075 2030.5l9.5 -9.5l9.5 9.5l-9.5 9.5zM1102.5 2048.1l9.5 -9.5l9.5 9.5l-9.5 9.5zM1130 2065.8l9.5 -9.5l9.5 9.5l-9.5 9.5zM1157.4 2083.4l9.5 -9.5l9.5 9.5l-9.5 9.5zM1184.9 2101.1l9.5 -9.5l9.5 9.5l-9.5 9.5zM1212.4 2118.7l9.5 -9.5l9.5 9.5l-9.5 9.5zM1239.9 2136.3l9.5 -9.5l9.5 9.5l-9.5 9.5zM1267.3 2153.9l9.5 -9.5l9.5 9.5l-9.5 9.5zM1294.8 2171.4l9.5 -9.5l9.5 9.5l-9.5 9.5zM1322.3 2188.9l9.5 -9.5l9.5 9.5l-9.5 9.5zM1349.7 2206.4l9.5 -9.5l9.5 9.5l-9.5 9.5zM1377.2 2223.9l9.5 -9.5l9.5 9.5l-9.5 9.5zM1404.7 2241.4l9.5 -9.5l9.5 9.5l-9.5 9.5zM1432.1 2258.8l9.5 -9.5l9.5 9.5l-9.5 9.5zM1459.6 2276.3l9.5 -9.5l9.5 9.5l-9.5 9.5zM1487.1 2293.6l9.5 -9.5l9.5 9.5l-9.5 9.5zM1514.6 2311l9.5 -9.5l9.5 9.5l-9.5 9.5zM1542 2328.3l9.5 -9.5l9.5 9.5l-9.5 9.5zM1569.5 2345.7l9.5 -9.5l9.5 9.5l-9.5 9.5zM1597 2362.9l9.5 -9.5l9.5 9.5l-9.5 9.5zM1624.4 2380.2l9.5 -9.5l9.5 9.5l-9.5 9.5zM1651.9 2397.4l9.5 -9.5l9.5 9.5l-9.5 9.5zM1679.4 2414.6l9.5 -9.5l9.5 9.5l-9.5 9.5zM1706.8 2431.7l9.5 -9.5l9.5 9.5l-9.5 9.5zM1734.3 2448.9l9.5 -9.5l9.5 9.5l-9.5 9.5zM1761.8 2466l9.5 -9.5l9.5 9.5l-9.5 9.5zM1789.3 2483l9.5 -9.5l9.5 9.5l-9.5 9.5zM1816.7 2500l9.5 -9.5l9.5 9.5l-9.5 9.5zM1844.2 2517l9.5 -9.5l9.5 9.5l-9.5 9.5zM1871.7 2534l9.5 -9.5l9.5 9.5l-9.5 9.5zM1899.1 2550.9l9.5 -9.5l9.5 9.5l-9.5 9.5zM1926.6 2567.8l9.5 -9.5l9.5 9.5l-9.5 9.5zM1938.5 2574.5l9.5 -9.5l9.5 9.5l-9.5 9.5zM1911 2556.9l9.5 -9.5l9.5 9.5l-9.5 9.5zM1883.6 2539.4l9.5 -9.5l9.5 9.5l-9.5 9.5zM1856.1 2521.7l9.5 -9.5l9.5 9.5l-9.5 9.5zM1828.6 2504.1l9.5 -9.5l9.5 9.5l-9.5 9.5zM1801.2 2486.4l9.5 -9.5l9.5 9.5l-9.5 9.5zM1773.7 2468.7l9.5 -9.5l9.5 9.5l-9.5 9.5zM1746.2 2451l9.5 -9.5l9.5 9.5l-9.5 9.5zM1718.8 2433.3l9.5 -9.5l9.5 9.5l-9.5 9.5zM1691.3 2415.5l9.5 -9.5l9.5 9.5l-9.5 9.5zM1663.8 2397.8l9.5 -9.5l9.5 9.5l-9.5 9.5zM1636.3 2380l9.5 -9.5l9.5 9.5l-9.5 9.5zM1608.9 2362.2l9.5 -9.5l9.5 9.5l-9.5 9.5zM1581.4 2344.4l9.5 -9.5l9.5 9.5l-9.5 9.5zM1553.9 2326.6l9.5 -9.5l9.5 9.5l-9.5 9.5zM1526.5 2308.8l9.5 -9.5l9.5 9.5l-9.5 9.5zM1499 2291l9.5 -9.5l9.5 9.5l-9.5 9.5zM1471.5 2273.2l9.5 -9.5l9.5 9.5l-9.5 9.5zM1444 2255.4l9.5 -9.5l9.5 9.5l-9.5 9.5zM1416.6 2237.6l9.5 -9.5l9.5 9.5l-9.5 9.5zM1389.1 2219.7l9.5 -9.5l9.5 9.5l-9.5 9.5zM1361.6 2201.9l9.5 -9.5l9.5 9.5l-9.5 9.5zM1334.2 2184.1l9.5 -9.5l9.5 9.5l-9.5 9.5zM1306.7 2166.3l9.5 -9.5l9.5 9.5l-9.5 9.5zM1279.2 2148.5l9.5 -9.5l9.5 9.5l-9.5 9.5zM1251.8 2130.7l9.5 -9.5l9.5 9.5l-9.5 9.5zM1224.3 2113l9.5 -9.5l9.5 9.5l-9.5 9.5zM1196.8 2095.2l9.5 -9.5l9.5 9.5l-9.5 9.5zM1169.3 2077.4l9.5 -9.5l9.5 9.5l-9.5 9.5zM1141.9 2059.7l9.5 -9.5l9.5 9.5l-9.5 9.5zM1114.4 2042l9.5 -9.5l9.5 9.5l-9.5 9.5zM1086.9 2024.3l9.5 -9.5l9.5 9.5l-9.5 9.5zM1059.5 2006.6l9.5 -9.5l9.5 9.5l-9.5 9.5zM1032 1988.9l9.5 -9.5l9.5 9.5l-9.5 9.5zM1004.5 1971.2l9.5 -9.5l9.5 9.5l-9.5 9.5zM977.1 1953.6l9.5 -9.5l9.5 9.5l-9.5 9.5zM949.6 1936l9.5 -9.5l9.5 9.5l-9.5 9.5zM922.1 1918.4l9.5 -9.5l9.5 9.5l-9.5 9.5zM894.6 1900.8l9.5 -9.5l9.5 9.5l-9.5 9.5zM867.2 1883.3l9.5 -9.5l9.5 9.5l-9.5 9.5zM839.7 1865.7l9.5 -9.5l9.5 9.5l-9.5 9.5zM812.2 1848.2l9.5 -9.5l9.5 9.5l-9.5 9.5zM784.8 1830.8l9.5 -9.5l9.5 9.5l-9.5 9.5zM757.3 1813.3l9.5 -9.5l9.5 9.5l-9.5 9.5zM729.8 1795.9l9.5 -9.5l9.5 9.5l-9.5 9.5zM702.4 1778.5l9.5 -9.5l9.5 9.5l-9.5 9.5zM674.9 1761.1l9.5 -9.5l9.5 9.5l-9.5 9.5zM647.4 1743.8l9.5 -9.5l9.5 9.5l-9.5 9.5zM619.9 1726.5l9.5 -9.5l9.5 9.5l-9.5 9.5zM592.5 1709.2l9.5 -9.5l9.5 9.5l-9.5 9.5zM565 1691.9l9.5 -9.5l9.5 9.5l-9.5 9.5zM537.5 1674.7l9.5 -9.5l9.5 9.5l-9.5 9.5zM510.1 1657.5l9.5 -9.5l9.5 9.5l-9.5 9.5zM482.6 1640.4l9.5 -9.5l9.5 9.5l-9.5 9.5zM455.1 1623.3l9.5 -9.5l9.5 9.5l-9.5 9.5zM427.7 1606.2l9.5 -9.5l9.5 9.5l-9.5 9.5zM400.2 1589.1l9.5 -9.5l9.5 9.5l-9.5 9.5zM372.7 1572.1l9.5 -9.5l9.5 9.5l-9.5 9.5zM345.2 1555.1l9.5 -9.5l9.5 9.5l-9.5 9.5zM317.8 1538.1l9.5 -9.5l9.5 9.5l-9.5 9.5zM290.3 1521.2l9.5 -9.5l9.5 9.5l-9.5 9.5zM262.8 1504.3l9.5 -9.5l9.5 9.5l-9.5 9.5zM235.4 1487.4l9.5 -9.5l9.5 9.5l-9.5 9.5zM207.9 1470.6l9.5 -9.5l9.5 9.5l-9.5 9.5z" fill="#00ff00" stroke="#00ff00" stroke-width="2" stroke-linejoin="round"/>
</g>
<g id="labels">
<text transform="translate(1018.7 79.1) scale(1 1.035)" font-size="69.8" text-anchor="end">0.9</text>
<text transform="translate(1018.7 288.3) scale(1 1.035)" font-size="69.8" text-anchor="end">0.6</text>
<text transform="translate(1018.7 497.5) scale(1 1.035)" font-size="69.8" text-anchor="end">0.3</text>
<text transform="translate(1018.7 706.6) scale(1 1.035)" font-size="69.8" text-anchor="end">0</text>
<text transform="translate(1018.7 915.8) scale(1 1.035)" font-size="69.8" text-anchor="end">-0.3</text>
<text transform="translate(1018.7 1125) scale(1 1.035)" font-size="69.8" text-anchor="end">-0.6</text>
<text transform="translate(1018.7 1334.2) scale(1 1.035)" font-size="69.8" text-anchor="end">-0.9</text>
<text transform="translate(94.5 789.4) scale(1 1.035)" font-size="69.8" text-anchor="middle">-20</text>
<text transform="translate(586.5 789.4) scale(1 1.035)" font-size="69.8" text-anchor="middle">-10</text>
<text transform="translate(1078.5 789.4) scale(1 1.035)" font-size="69.8" text-anchor="middle">0</text>
<text transform="translate(1570.5 789.4) scale(1 1.035)" font-size="69.8" text-anchor="middle">10</text>
<text transform="translate(2062.5 789.4) scale(1 1.035)" font-size="69.8" text-anchor="middle">20</text>
<text transform="translate(1018.7 1426.1) scale(1 1.035)" font-size="69.8" text-anchor="end">0.9</text>
<text transform="translate(1018.7 1631.9) scale(1 1.035)" font-size="69.8" text-anchor="end">0.6</text>
<text transform="translate(1018.7 1837.7) scale(1 1.035)" font-size="69.8" text-anchor="end">0.3</text>
<text transform="translate(1018.7 2043.5) scale(1 1.035)" font-size="69.8" text-anchor="end">0</text>
<text transform="translate(1018.7 2249.3) scale(1 1.035)" font-size="69.8" text-anchor="end">-0.3</text>
<text transform="translate(1018.7 2455.1) scale(1 1.035)" font-size="69.8" text-anchor="end">-0.6</text>
<text transform="translate(1018.7 2660.9) scale(1 1.035)" font-size="69.8" text-anchor="end">-0.9</text>
<text transform="translate(96.4 2126) scale(1 1.035)" font-size="69.8" text-anchor="middle">-20</text>
<text transform="translate(587.3 2126) scale(1 1.035)" font-size="69.8" text-anchor="middle">-10</text>
<text transform="translate(1078.2 2126) scale(1 1.035)" font-size="69.8" text-anchor="middle">0</text>
<text transform="translate(1569.1 2126) scale(1 1.035)" font-size="69.8" text-anchor="middle">10</text>
<text transform="translate(2060 2126) scale(1 1.035)" font-size="69.8" text-anchor="middle">20</text>
<text transform="translate(1115.4 108.6) scale(1 1.03)" font-size="69.8">B<tspan font-size="55">0</tspan> (µT)</text>
<text transform="translate(1115.8 1442.6) scale(1 1.03)" font-size="69.8">B<tspan font-size="55">0</tspan> (µT)</text>
<text transform="translate(1820.3 849.5) scale(1 1.03)" font-size="69.6" text-anchor="start">H (kA/m)</text>
<text transform="translate(1814 2227.4) scale(1 1.03)" font-size="69.6" text-anchor="start">H (kA/m)</text>
<text x="61.5" y="108.7" font-size="68.8" text-anchor="start">(a)</text>
<text x="59" y="1436.3" font-size="68.8" text-anchor="start">(b)</text>
<text transform="translate(223.4 323.8) scale(1 1.035)" font-size="70" text-anchor="start">170 K</text>
<text transform="translate(227.6 627.9) scale(1 1.035)" font-size="70" text-anchor="start">167 K</text>
<text transform="translate(235.8 855.8) scale(1 1.035)" font-size="70" text-anchor="start">166 K</text>
<text transform="translate(395.8 1537.2) scale(1 1.035)" font-size="70" text-anchor="start">170 K</text>
<text transform="translate(410.4 1924) scale(1 1.035)" font-size="70" text-anchor="start">165 K</text>
<text transform="translate(397.8 2307.9) scale(1 1.035)" font-size="70" text-anchor="start">163 K</text>
<text transform="translate(1623 223.4) scale(1 1.03)" font-size="76.5" text-anchor="start">Cooling</text>
<text transform="translate(1257.9 1588.8) scale(1 1.03)" font-size="76.5" text-anchor="start">Heating from FM state</text>
</g>
</svg>
</body>
</html>
